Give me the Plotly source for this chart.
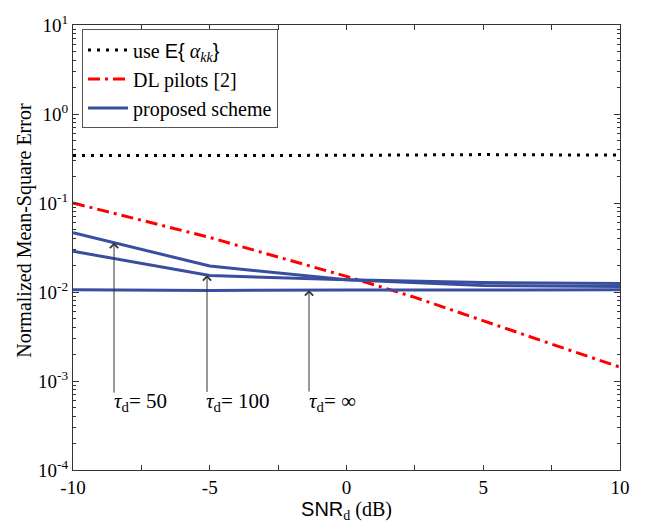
import numpy as np
import plotly.graph_objects as go

snr_db = [-10, -5, 0, 5, 10]
use_E = [0.342, 0.342, 0.343, 0.35, 0.345]

snr_dl = [-10, -7.5, -5, -2.5, 0, 2.5, 5, 7.5, 10]
dl_pilots = [0.1, 0.0646, 0.041, 0.0247, 0.015, 0.0087, 0.0048, 0.0026, 0.00143]

tau50 = [0.0464, 0.0196, 0.0137, 0.0118, 0.0115]
tau100 = [0.0287, 0.0153, 0.0137, 0.0128, 0.0125]
tau_inf = [0.0106, 0.0104, 0.0105, 0.0106, 0.0106]

xtick_vals = [-10, -5, 0, 5, 10]
xtick_text = ["-10", "-5", "0", "5", "10"]
ytick_vals = [1e-4, 1e-3, 1e-2, 1e-1, 1e0, 1e1]
ytick_text = ["10<sup>-4</sup>", "10<sup>-3</sup>", "10<sup>-2</sup>",
              "10<sup>-1</sup>", "10<sup>0</sup>", "10<sup>1</sup>"]

arrow_x = [-8.5, -5.1, -1.37]
label_x = [-7.55, -4.0, -0.5]
labels = ["<i>τ</i><sub>d</sub>= 50", "<i>τ</i><sub>d</sub>= 100", "<i>τ</i><sub>d</sub>= ∞"]

SERIF = "Liberation Serif"
BLUE = "#3a4ea0"

fig = go.Figure()
fig.add_trace(go.Scatter(x=snr_db, y=use_E, mode="lines",
                         line=dict(color="black", width=3, dash="3px,6px"),
                         name="use <span style='font-family:Liberation Sans'>E{</span> <i>α</i><sub><i>kk</i></sub><span style='font-family:Liberation Sans'>}</span>  "))
fig.add_trace(go.Scatter(x=snr_dl, y=dl_pilots, mode="lines",
                         line=dict(color="red", width=3, dash="12px,5px,3px,5px"),
                         name="DL pilots [2]"))
fig.add_trace(go.Scatter(x=snr_db, y=tau50, mode="lines",
                         line=dict(color=BLUE, width=3), name="proposed scheme"))
fig.add_trace(go.Scatter(x=snr_db, y=tau100, mode="lines",
                         line=dict(color=BLUE, width=3), showlegend=False))
fig.add_trace(go.Scatter(x=snr_db, y=tau_inf, mode="lines",
                         line=dict(color=BLUE, width=3), showlegend=False))

curves = [tau50, tau100, tau_inf]
for ax_, lx, lab, cv in zip(arrow_x, label_x, labels, curves):
    ly = np.interp(ax_, snr_db, np.log10(cv))
    fig.add_annotation(x=ax_, y=ly, xref="x", yref="y", text="", showarrow=True,
                       ax=0, ay=390 - (289 - (ly + 2) * 91),
                       arrowhead=4, arrowsize=1.6, arrowwidth=1, arrowcolor="#333")
    fig.add_annotation(x=lx, y=-3.24, xref="x", yref="y", text=lab, showarrow=False,
                       font=dict(family=SERIF, size=21, color="black"),
                       xanchor="center", yanchor="middle")

fig.add_annotation(x=-0.088, y=0.5 + 18 / 455, xref="paper", yref="paper",
                   text="Normalized Mean-Square Error", textangle=-90, showarrow=False,
                   font=dict(family=SERIF, size=20, color="black"),
                   xanchor="center", yanchor="middle")

minor_y = [k * 10.0 ** n for n in range(-4, 1) for k in range(2, 10)]

fig.update_xaxes(range=[-10, 10], tickvals=xtick_vals, ticktext=xtick_text,
                 ticks="inside", ticklen=5, tickcolor="#333", mirror="ticks",
                 showline=True, linecolor="#333", linewidth=1, showgrid=False,
                 zeroline=False,
                 minor=dict(tickvals=[-7.5, -2.5, 2.5, 7.5], ticks="inside", ticklen=5, tickcolor="#333"),
                 tickfont=dict(family=SERIF, size=19, color="black"),
                 title=dict(text="<span style='font-family:Liberation Sans'>SNR</span><sub>d</sub> (dB)",
                            font=dict(family=SERIF, size=20, color="black"), standoff=4))
fig.update_yaxes(type="log", range=[-4, 1], tickvals=ytick_vals, ticktext=ytick_text,
                 ticks="inside", ticklen=6, tickcolor="#333", mirror="ticks",
                 showline=True, linecolor="#333", linewidth=1, showgrid=False,
                 minor=dict(tickvals=minor_y, ticks="inside", ticklen=3, tickcolor="#333"),
                 tickfont=dict(family=SERIF, size=19, color="black"))

fig.update_layout(width=649, height=529,
                  margin=dict(l=73, r=29, t=15, b=59),
                  plot_bgcolor="white", paper_bgcolor="white",
                  showlegend=True,
                  legend=dict(x=0.0165, y=0.99, xanchor="left", yanchor="top",
                              bgcolor="white", bordercolor="#555", borderwidth=1,
                              font=dict(family=SERIF, size=20, color="black"),
                              itemwidth=40, tracegroupgap=0))

fig.write_html("out.html")
